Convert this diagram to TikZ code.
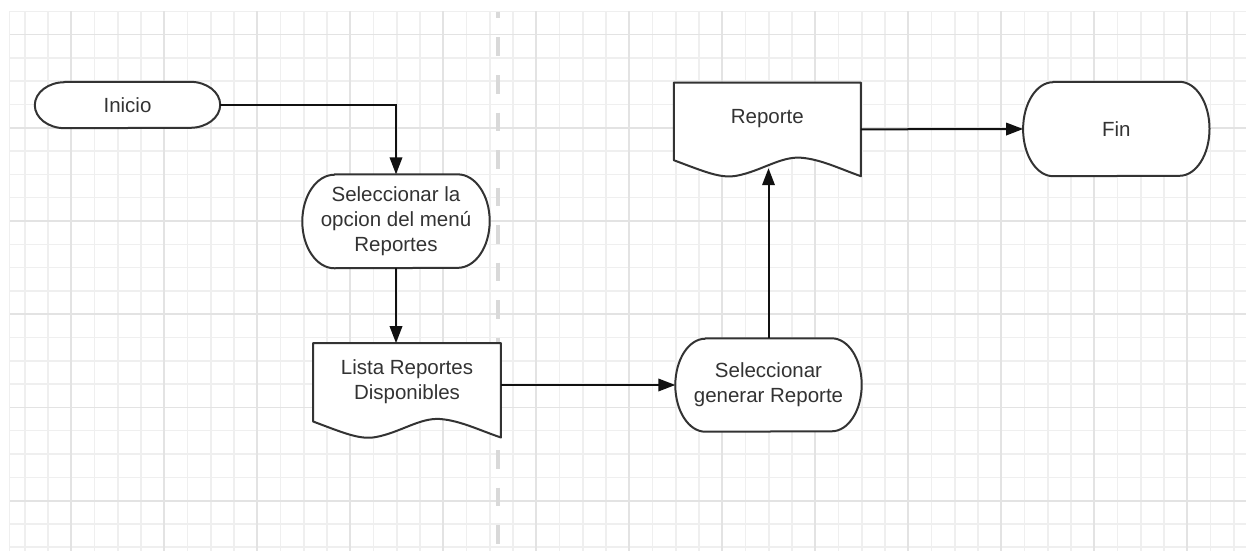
\documentclass[tikz,border=0pt]{standalone}
\usepackage{fontspec}
\setmainfont{Liberation Sans}
\usetikzlibrary{arrows.meta,calc}

\pgfdeclarelayer{gridlayer}
\pgfdeclarelayer{shapelayer}
\pgfsetlayers{gridlayer,shapelayer,main}

\definecolor{gridminor}{HTML}{EFEFEF}
\definecolor{gridmajor}{HTML}{E3E3E3}
\definecolor{lanedash}{HTML}{D9D9D9}
\definecolor{ink}{HTML}{333333}
\definecolor{wire}{HTML}{111111}

\tikzset{
  words/.style={inner sep=0pt, align=center, text=ink,
    font=\fontsize{20.5}{25}\selectfont},
  term/.style={words, draw=none},
  doc/.style={draw=none, inner sep=0pt},
  outline/.style={draw=ink, line width=2pt, fill=white, line join=round},
  flow/.style={draw=wire, line width=2pt, -{Triangle[length=17pt,width=12.5pt]}},
  minorline/.style={draw=gridminor, line width=1.5pt},
  majorline/.style={draw=gridmajor, line width=1.8pt},
}

% capsule outline with elliptical ends: node name, x radius, y radius (pt)
\newcommand\capsule[3]{%
  \draw[outline] ([xshift=#2pt]#1.north west) -- ([xshift=-#2pt]#1.north east)
    arc[start angle=90, end angle=-90, x radius=#2pt, y radius=#3pt]
    -- ([xshift=#2pt]#1.south west)
    arc[start angle=270, end angle=90, x radius=#2pt, y radius=#3pt] -- cycle;}

% document outline with a wavy bottom edge
\newcommand\docoutline[1]{%
  \draw[outline] (#1.north west) -- (#1.north east) -- (#1.south east)
    .. controls ([shift={(167pt,7pt)}]#1.south west) and ([shift={(147pt,17pt)}]#1.south west)
    .. ([shift={(127pt,18.5pt)}]#1.south west)
    .. controls ([shift={(107pt,20pt)}]#1.south west) and ([shift={(87pt,5pt)}]#1.south west)
    .. ([shift={(63pt,0.5pt)}]#1.south west)
    .. controls ([shift={(47pt,-2.5pt)}]#1.south west) and ([shift={(32pt,4pt)}]#1.south west)
    .. ([shift={(0pt,16pt)}]#1.south west) -- cycle;}

\begin{document}
\begin{tikzpicture}[x=1pt, y=-1pt]
\useasboundingbox (0,0) rectangle (1246,551);

% background grid and lane separator
\begin{pgfonlayer}{gridlayer}
  \fill[white] (0,0) rectangle (1246,551);
  \begin{scope}
    \clip (9,11.2) rectangle (1246,551);
    \foreach \k in {-2,...,50}
      \draw[minorline] ({71.3+23.25*\k},0) -- ++(0,551);
    \foreach \k in {-1,...,22}
      \draw[minorline] (0,{34.6+23.3*\k}) -- ++(1246,0);
    \foreach \k in {0,...,12}
      \draw[majorline] ({71.3+93*\k},0) -- ++(0,551);
    \foreach \k in {0,...,5}
      \draw[majorline] (0,{34.6+93.2*\k}) -- ++(1246,0);
    \draw[minorline] (9,0) -- (9,551);
  \end{scope}
  \draw[lanedash, line width=4pt, dash pattern=on 18.5pt off 19pt, dash phase=11.7pt]
    (498,11.7) -- (498,551);
\end{pgfonlayer}

% steps
\node[term, minimum width=185pt, minimum height=46pt] (inicio) at (127.5,105) {Inicio};
\node[term, minimum width=187pt, minimum height=93.5pt] (selmenu) at (396,221.3)
  {Seleccionar la\\opcion del menú\\Reportes};
\node[doc, minimum width=187.4pt, minimum height=94pt] (lista) at (407,390.3) {};
\node[words] (listatext) at ([yshift=8.5pt]lista.center) {Lista Reportes\\Disponibles};
\node[term, minimum width=186pt, minimum height=93pt] (selgen) at (768.5,385)
  {Seleccionar\\generar Reporte};
\node[doc, minimum width=186.7pt, minimum height=93.3pt] (reporte) at (767.35,129.35) {};
\node[words] (reportetext) at ([yshift=11pt]reporte.center) {Reporte};
\node[term, minimum width=186pt, minimum height=94pt] (fin) at (1116.3,129) {Fin};

\begin{pgfonlayer}{shapelayer}
  \capsule{inicio}{30}{23}
  \capsule{selmenu}{32}{46.75}
  \capsule{selgen}{30}{46.5}
  \capsule{fin}{30}{47}
  \docoutline{lista}
  \docoutline{reporte}
\end{pgfonlayer}

% connectors
\draw[flow] (inicio.east) -| (selmenu.north);
\draw[flow] (selmenu.south) -- (selmenu.south |- lista.north);
\draw[flow] (selgen.west -| lista.east) -- (selgen.west);
\coordinate (reportein) at ([yshift=8pt]selgen.north |- reporte.south);
\draw[flow] (selgen.north) -- (reportein);
\draw[flow] (reporte.east) -- (fin.west);
\end{tikzpicture}
\end{document}
